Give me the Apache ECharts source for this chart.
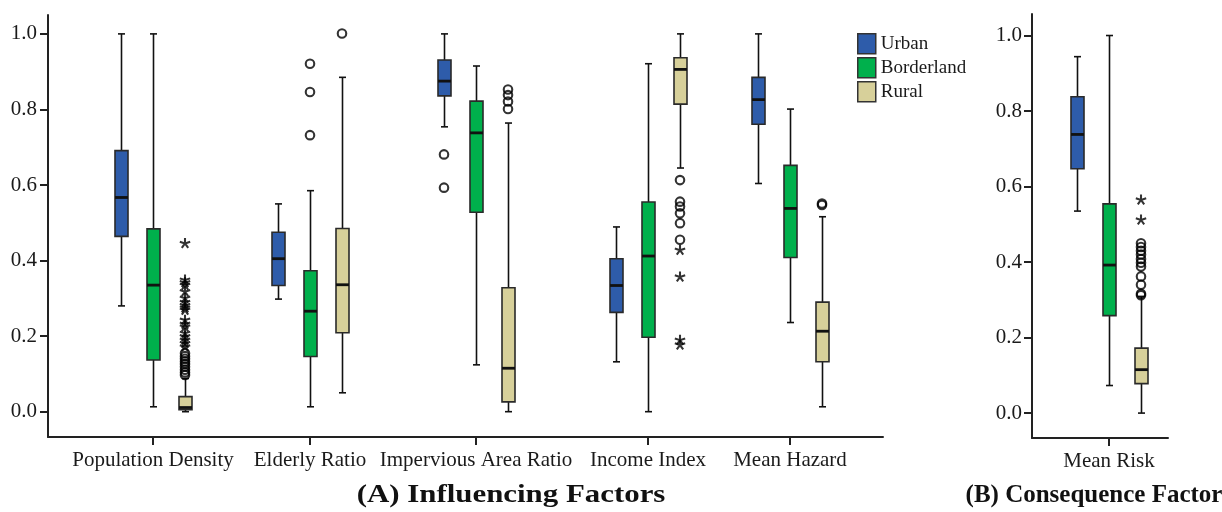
<!DOCTYPE html>
<html>
<head>
<meta charset="utf-8">
<script src="https://cdn.jsdelivr.net/npm/echarts@6/dist/echarts.min.js"></script>
<style>html,body{margin:0;padding:0;background:#fff}#c{width:1222px;height:512px}</style>
</head>
<body>
<div id="c"></div>
<script>
// ---------- DATA ----------
const categories = ['Population Density', 'Elderly Ratio', 'Impervious Area Ratio', 'Income Index', 'Mean Hazard', 'Mean Risk'];
const groups = ['Urban', 'Borderland', 'Rural'];
const yTicks = [0, 0.2, 0.4, 0.6, 0.8, 1.0];
// [lower whisker, Q1, median, Q3, upper whisker] per category
const urbanBoxes = [
  [0.280, 0.464, 0.567, 0.691, 1.000],
  [0.298, 0.334, 0.405, 0.475, 0.550],
  [0.754, 0.836, 0.875, 0.931, 1.000],
  [0.132, 0.263, 0.334, 0.405, 0.489],
  [0.604, 0.761, 0.826, 0.885, 1.000],
  [0.535, 0.647, 0.738, 0.838, 0.944]
];
const borderlandBoxes = [
  [0.013, 0.137, 0.335, 0.484, 1.000],
  [0.013, 0.146, 0.266, 0.373, 0.585],
  [0.124, 0.528, 0.738, 0.822, 0.915],
  [0.000, 0.197, 0.412, 0.555, 0.921],
  [0.236, 0.408, 0.538, 0.652, 0.801],
  [0.073, 0.258, 0.392, 0.554, 1.000]
];
const ruralBoxes = [
  [0.000, 0.005, 0.011, 0.040, 0.088],
  [0.050, 0.209, 0.336, 0.485, 0.885],
  [0.000, 0.026, 0.115, 0.328, 0.764],
  [0.645, 0.814, 0.906, 0.937, 1.000],
  [0.013, 0.132, 0.213, 0.290, 0.516],
  [0.000, 0.078, 0.115, 0.172, 0.309]
];
// outliers: [category index, value]
const urbanCircles = [[2, 0.681], [2, 0.593]];
const urbanStars = [];
const borderlandCircles = [[1, 0.921], [1, 0.846], [1, 0.732]];
const borderlandStars = [];
const ruralCircles = [
  [0, 0.155], [0, 0.147], [0, 0.140], [0, 0.133], [0, 0.126], [0, 0.119], [0, 0.111], [0, 0.104], [0, 0.097],
  [1, 1.001],
  [2, 0.853], [2, 0.838], [2, 0.821], [2, 0.801],
  [3, 0.613], [3, 0.556], [3, 0.543], [3, 0.525], [3, 0.499], [3, 0.455],
  [4, 0.551], [4, 0.547],
  [5, 0.450], [5, 0.440], [5, 0.430], [5, 0.420], [5, 0.408], [5, 0.398], [5, 0.388], [5, 0.362], [5, 0.340], [5, 0.316], [5, 0.312]
];
const ruralStars = [
  [0, 0.446], [0, 0.349], [0, 0.342], [0, 0.335], [0, 0.318], [0, 0.301], [0, 0.290], [0, 0.282], [0, 0.275], [0, 0.269],
  [0, 0.243], [0, 0.232], [0, 0.225], [0, 0.208], [0, 0.199], [0, 0.190], [0, 0.181], [0, 0.172],
  [3, 0.428], [3, 0.357], [3, 0.190], [3, 0.177],
  [5, 0.565], [5, 0.512]
];

// ---------- STYLE / LAYOUT ----------
const colors = ['#2E5CAA', '#00B04C', '#D7D09A'];
const FONT = '"Liberation Serif", "Times New Roman", serif';
const INK = '#1a1a1a';
const catCenters = [153, 310, 476, 648, 790, 1109];   // pixel centres of each factor group
const groupStep = 32;   // px between Urban / Borderland / Rural boxes
const BOX_W = 13, CAP_W = 7;
const panelA = { left: 48, top: 15, width: 835, height: 422, min: -0.067, max: 1.05, labelMargin: 11 };
const panelB = { left: 1032, top: 14, width: 136, height: 424, min: -0.066, max: 1.057, labelMargin: 10 };

const boxes = [urbanBoxes, borderlandBoxes, ruralBoxes];
const circles = [urbanCircles, borderlandCircles, ruralCircles];
const stars = [urbanStars, borderlandStars, ruralStars];

function starPath() {
  const arms = 5, r = 10, w = 1.9; let d = '';
  for (let i = 0; i < arms; i++) {
    const a = -Math.PI / 2 + i * 2 * Math.PI / arms;
    const dx = Math.cos(a), dy = Math.sin(a), nx = -dy, ny = dx;
    const pts = [[w * nx, w * ny], [r * dx + w * nx, r * dy + w * ny], [r * dx - w * nx, r * dy - w * ny], [-w * nx, -w * ny]];
    d += 'M' + pts.map(p => p[0].toFixed(2) + ' ' + p[1].toFixed(2)).join('L') + 'Z';
  }
  return 'path://' + d;
}
const STAR = starPath();

function boxRenderer(offsetPx, fill) {
  return function (params, api) {
    const x = api.value(0);
    const p = v => api.coord([x, v]);
    const lo = p(api.value(1)), q1 = p(api.value(2)), md = p(api.value(3)), q3 = p(api.value(4)), hi = p(api.value(5));
    const cx = Math.round(lo[0] + offsetPx) + 0.5;
    const hw = BOX_W / 2, cap = CAP_W / 2;
    const ln = { stroke: '#111', lineWidth: 1.6 };
    return {
      type: 'group',
      children: [
        { type: 'line', shape: { x1: cx, y1: hi[1], x2: cx, y2: q3[1] }, style: ln },
        { type: 'line', shape: { x1: cx, y1: q1[1], x2: cx, y2: lo[1] }, style: ln },
        { type: 'line', shape: { x1: cx - cap, y1: hi[1], x2: cx + cap, y2: hi[1] }, style: ln },
        { type: 'line', shape: { x1: cx - cap, y1: lo[1], x2: cx + cap, y2: lo[1] }, style: ln },
        { type: 'rect', shape: { x: cx - hw, y: q3[1], width: BOX_W, height: q1[1] - q3[1] }, style: { fill: fill, stroke: '#2a2a2a', lineWidth: 1.6 } },
        { type: 'line', shape: { x1: cx - hw, y1: md[1], x2: cx + hw, y2: md[1] }, style: { stroke: '#111', lineWidth: 2.8 } }
      ]
    };
  };
}

const grid = [], xAxis = [], yAxis = [], series = [];

// frame grids (axes lines, y labels)
[panelA, panelB].forEach((P) => {
  const gi = grid.length;
  grid.push({ left: P.left, top: P.top, width: P.width, height: P.height });
  xAxis.push({
    type: 'value', gridIndex: gi, min: 0, max: 1,
    axisLine: { show: true, onZero: false, lineStyle: { color: '#222', width: 2 } },
    axisTick: { show: false }, axisLabel: { show: false }, splitLine: { show: false }
  });
  yAxis.push({
    type: 'value', gridIndex: gi, min: P.min, max: P.max,
    axisLine: { show: true, onZero: false, lineStyle: { color: '#222', width: 2 } },
    axisTick: { show: true, length: 8, customValues: yTicks, lineStyle: { color: '#222', width: 2 } },
    axisLabel: { show: true, customValues: yTicks, margin: P.labelMargin, formatter: v => v.toFixed(1), fontFamily: FONT, fontSize: 21, color: INK },
    splitLine: { show: false }
  });
  series.push({ type: 'scatter', xAxisIndex: gi, yAxisIndex: gi, data: [], silent: true });
});

// one grid per factor, three boxes in each
categories.forEach((cat, k) => {
  const P = k < 5 ? panelA : panelB;
  const gi = grid.length;
  grid.push({ left: catCenters[k] - 50, top: P.top, width: 100, height: P.height });
  xAxis.push({
    type: 'category', gridIndex: gi, data: [cat], position: 'bottom',
    axisLine: { show: false, onZero: false },
    axisTick: { show: true, alignWithLabel: true, length: 8, lineStyle: { color: '#222', width: 2 } },
    axisLabel: { show: true, margin: 13, fontFamily: FONT, fontSize: 21, color: INK, interval: 0 },
    splitLine: { show: false }
  });
  yAxis.push({ type: 'value', gridIndex: gi, min: P.min, max: P.max, show: false, splitLine: { show: false } });
  groups.forEach((g, gIdx) => {
    const off = (gIdx - 1) * groupStep;
    series.push({
      type: 'custom', name: g, xAxisIndex: gi, yAxisIndex: gi, silent: true,
      itemStyle: { color: colors[gIdx] },
      data: [[0].concat(boxes[gIdx][k])],
      encode: { x: 0, y: [1, 2, 3, 4, 5] },
      renderItem: boxRenderer(off, colors[gIdx])
    });
    const cpts = circles[gIdx].filter(d => d[0] === k).map(d => [0, d[1]]);
    if (cpts.length) series.push({
      type: 'scatter', name: g, xAxisIndex: gi, yAxisIndex: gi, silent: true,
      symbol: 'circle', symbolSize: 8.5, symbolOffset: [off, 0],
      itemStyle: { color: 'rgba(0,0,0,0)', borderColor: '#000', borderWidth: 2.1 },
      data: cpts
    });
    const spts = stars[gIdx].filter(d => d[0] === k).map(d => [0, d[1]]);
    if (spts.length) series.push({
      type: 'scatter', name: g, xAxisIndex: gi, yAxisIndex: gi, silent: true,
      symbol: STAR, symbolSize: 11, symbolKeepAspect: true, symbolOffset: [off, 0],
      itemStyle: { color: '#000' },
      data: spts
    });
  });
});

const option = {
  animation: false,
  backgroundColor: '#fff',
  grid, xAxis, yAxis, series,
  legend: {
    orient: 'vertical', left: 857, top: 33, padding: 0,
    itemWidth: 18, itemHeight: 20, itemGap: 2.5, itemTextGap: 5,
    selectedMode: false,
    textStyle: { fontFamily: FONT, fontSize: 19, color: INK },
    data: groups.map((g, i) => ({ name: g, icon: 'rect', itemStyle: { color: colors[i], borderColor: '#333', borderWidth: 1.5 } }))
  },
  graphic: [
    { type: 'text', x: 511, y: 496, scaleX: 1.235, style: { text: '(A) Influencing Factors', font: 'bold 25px ' + FONT, fill: '#111', textAlign: 'center', textVerticalAlign: 'middle' } },
    { type: 'text', x: 1094, y: 496, style: { text: '(B) Consequence Factor', font: 'bold 25px ' + FONT, fill: '#111', textAlign: 'center', textVerticalAlign: 'middle' } }
  ]
};

const chart = echarts.init(document.getElementById('c'), null, { renderer: 'canvas' });
chart.setOption(option);
</script>
</body>
</html>
